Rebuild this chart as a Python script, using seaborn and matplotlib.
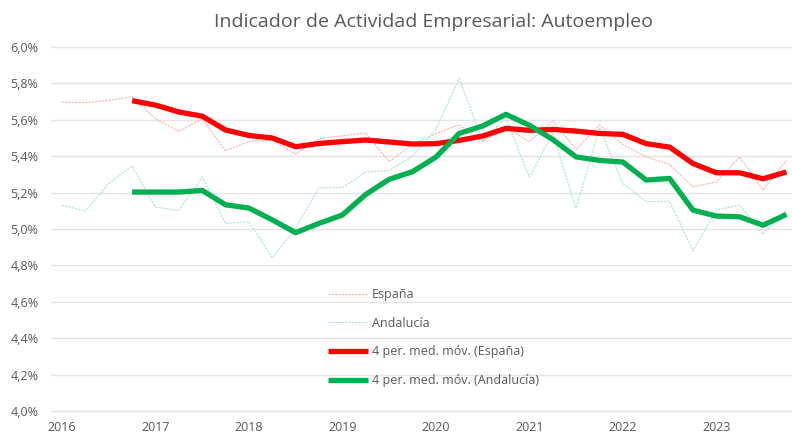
import matplotlib
matplotlib.use("Agg")
import matplotlib.pyplot as plt
import seaborn as sns
import pandas as pd
import numpy as np

# ---- data (quarterly, 2016Q1 .. 2023Q4) ----
years = ["2016", "2017", "2018", "2019", "2020", "2021", "2022", "2023"]
espana = [5.697, 5.694, 5.707, 5.727, 5.606, 5.536, 5.606, 5.430,
          5.481, 5.487, 5.412, 5.496, 5.512, 5.527, 5.370, 5.465,
          5.525, 5.573, 5.481, 5.556, 5.480, 5.593, 5.437, 5.571,
          5.465, 5.396, 5.355, 5.232, 5.258, 5.396, 5.214, 5.378]
andalucia = [5.130, 5.099, 5.250, 5.346, 5.120, 5.102, 5.285, 5.031,
             5.040, 4.842, 5.005, 5.227, 5.227, 5.313, 5.322, 5.400,
             5.547, 5.827, 5.483, 5.610, 5.285, 5.525, 5.113, 5.556,
             5.250, 5.151, 5.153, 4.879, 5.104, 5.132, 4.970, 5.108]
ma_espana = [None, None, None, 5.705, 5.681, 5.643, 5.620, 5.544,
             5.514, 5.500, 5.452, 5.470, 5.480, 5.489, 5.478, 5.467,
             5.469, 5.487, 5.511, 5.553, 5.542, 5.547, 5.538, 5.525,
             5.520, 5.469, 5.450, 5.360, 5.309, 5.309, 5.276, 5.313]
ma_andalucia = [None, None, None, 5.203, 5.203, 5.203, 5.212, 5.133,
                5.115, 5.050, 4.980, 5.031, 5.077, 5.190, 5.273, 5.315,
                5.395, 5.525, 5.566, 5.630, 5.570, 5.492, 5.396, 5.377,
                5.368, 5.269, 5.278, 5.104, 5.071, 5.067, 5.021, 5.080]

labels = ["España", "Andalucía", "4 per. med. móv. (España)", "4 per. med. móv. (Andalucía)"]

idx = np.arange(len(espana))
df = pd.DataFrame({
    "t": idx,
    labels[0]: espana,
    labels[1]: andalucia,
    labels[2]: pd.array(ma_espana, dtype="Float64").astype(float),
    labels[3]: pd.array(ma_andalucia, dtype="Float64").astype(float),
})

sns.set_theme(style="white")
plt.rcParams["font.family"] = ["Open Sans", "DejaVu Sans"]

W, H = 792, 438
fig = plt.figure(figsize=(W / 100, H / 100), dpi=100)
ax_l, ax_r, ax_t, ax_b = 51, 792, 47, 411
ax = fig.add_axes([ax_l / W, 1 - ax_b / H, (ax_r - ax_l) / W, (ax_b - ax_t) / H])

gray = "#595959"
styles = {
    labels[0]: dict(color="#ffb0b0", linewidth=0.8, linestyle=(0, (2, 1))),
    labels[1]: dict(color="#b0e4c4", linewidth=0.8, linestyle=(0, (2, 1))),
    labels[2]: dict(color="#ff0000", linewidth=3.8, linestyle="-"),
    labels[3]: dict(color="#00b050", linewidth=3.8, linestyle="-"),
}
for lab in labels:
    st = styles[lab]
    sns.lineplot(data=df, x="t", y=lab, ax=ax, label=lab, color=st["color"],
                 linewidth=st["linewidth"], linestyle=st["linestyle"],
                 solid_capstyle="butt", zorder=3 if "med" in lab else 2)

ax.set_xlim(-0.47, 31.24)
ax.set_ylim(4.0, 6.0)
ax.set_yticks(np.arange(4.0, 6.01, 0.2))
ax.set_yticklabels([f"{v:.1f}%".replace(".", ",") for v in np.arange(4.0, 6.01, 0.2)])
ax.set_xticks(np.arange(0, 32, 4))
ax.set_xticklabels(years)
ax.set_xlabel("")
ax.set_ylabel("")
ax.grid(axis="y", color="#e4e4e4", linewidth=1.0, clip_on=False)
ax.grid(axis="x", visible=False)
for s in ax.spines.values():
    s.set_visible(False)
ax.tick_params(axis="both", length=0, labelsize=9, labelcolor=gray)
ax.tick_params(axis="y", pad=9)
ax.tick_params(axis="x", pad=7)

fig.text(434 / W, 1 - 22 / H, "Indicador de Actividad Empresarial: Autoempleo",
         ha="center", va="center", fontsize=14, color=gray)

leg = ax.legend(loc="upper left", bbox_to_anchor=(318 / W, 1 - 278 / H),
                bbox_transform=fig.transFigure, frameon=False, fontsize=9,
                handlelength=3.2, handletextpad=0.3, labelspacing=1.25,
                borderpad=0.3)
for t in leg.get_texts():
    t.set_color(gray)

fig.savefig("out.png", dpi=100)
